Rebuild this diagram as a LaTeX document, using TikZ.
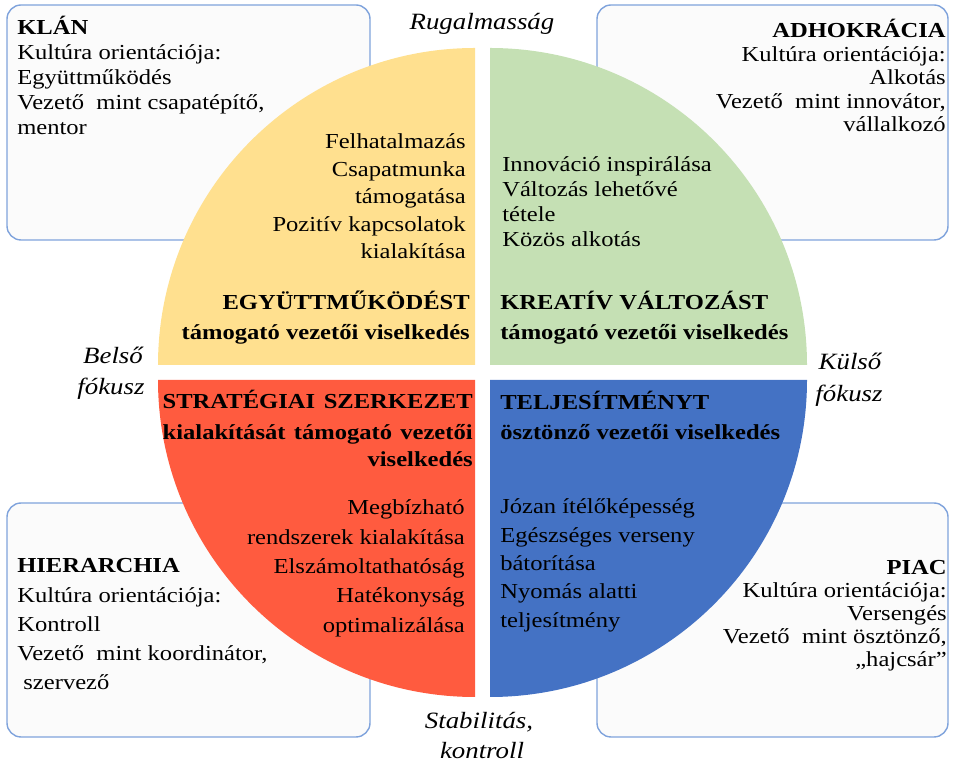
\documentclass[tikz,border=0pt]{standalone}
\usepackage{fontspec}
\setmainfont[FakeStretch=1.15]{Liberation Serif}

\definecolor{sarga}{HTML}{FFE08F}
\definecolor{zold}{HTML}{C5E0B4}
\definecolor{piros}{HTML}{FF5B3F}
\definecolor{kek}{HTML}{4472C4}
\definecolor{keret}{HTML}{7FA3DC}
\definecolor{hatter}{HTML}{FBFBFB}

\tikzset{
  doboz/.style={draw=keret, fill=hatter, line width=1pt, rounded corners=10pt},
  sor/.style={inner sep=0pt, font=\fontsize{15.2}{18}\selectfont},
  fej/.style={inner sep=0pt, font=\fontsize{15.2}{18}\selectfont\bfseries},
  tengely/.style={inner sep=0pt, font=\fontsize{16.6}{20}\selectfont\itshape, anchor=base},
}

\begin{document}
\begin{tikzpicture}[x=0.025cm, y=0.025cm]
  \useasboundingbox (0,0) rectangle (953,767);

  % kultura dobozok
  \draw[doboz] (7,527) rectangle (370,762);
  \draw[doboz] (597,527) rectangle (948,762);
  \draw[doboz] (7,30) rectangle (370,264);
  \draw[doboz] (597,30) rectangle (948,264);

  % negyedkorok
  \fill[sarga] (475,402) -- ++(0,317) arc (90:180:317) -- cycle;
  \fill[zold] (490,402) -- ++(317,0) arc (0:90:317) -- cycle;
  \fill[piros] (475,387) -- ++(-317,0) arc (180:270:317) -- cycle;
  \fill[kek] (490,387) -- ++(0,-317) arc (270:360:317) -- cycle;

  % tengelyek
  \node[tengely] (rug) at (482,737) {Rugalmasság};
  \node[tengely] (belso1) at (113,403) {Belső};
  \node[tengely] (belso2) at (111,372) {fókusz};
  \node[tengely] (kulso1) at (850,397) {Külső};
  \node[tengely] (kulso2) at (849,365) {fókusz};
  \node[tengely] (stab1) at (479,38) {Stabilitás,};
  \node[tengely] (stab2) at (482,8) {kontroll};

  % KLAN
  \node[fej, anchor=base west] (klan) at (17,732) {KLÁN};
  \foreach \sz [count=\i from 0] in {{Kultúra orientációja:}, Együttműködés, {Vezető~~mint csapatépítő,}, mentor}
    \node[sor, anchor=base west] (klan-\i) at (17,707-25*\i) {\sz};

  % ADHOKRACIA
  \node[fej, anchor=base east] (adho) at (946,729) {ADHOKRÁCIA};
  \foreach \sz [count=\i from 0] in {{Kultúra orientációja:}, Alkotás, {Vezető~~mint innovátor,}, vállalkozó}
    \node[sor, anchor=base east] (adho-\i) at (946,705.5-23.5*\i) {\sz};

  % HIERARCHIA
  \node[fej, anchor=base west] (hier) at (17,194) {HIERARCHIA};
  \foreach \sz [count=\i from 0] in {{Kultúra orientációja:}, Kontroll, {Vezető~~mint koordinátor,}, {\ szervező}}
    \node[sor, anchor=base west] (hier-\i) at (17,164-29*\i) {\sz};

  % PIAC
  \node[fej, anchor=base east] (piac) at (947,192) {PIAC};
  \foreach \sz [count=\i from 0] in {{Kultúra orientációja:}, Versengés, {Vezető~~mint ösztönző,}, {„hajcsár”}}
    \node[sor, anchor=base east] (piac-\i) at (947,169-23*\i) {\sz};

  % sarga negyed
  \foreach \sz [count=\i from 0] in {Felhatalmazás, Csapatmunka, támogatása, {Pozitív kapcsolatok}, kialakítása}
    \node[sor, anchor=base east] (egy-\i) at (466,618-27.5*\i) {\sz};
  \node[fej, anchor=base east] (egyf1) at (470,457) {EGYÜTTMŰKÖDÉST};
  \node[fej, anchor=base east] (egyf2) at (470,427) {támogató vezetői viselkedés};

  % zold negyed
  \foreach \sz [count=\i from 0] in {{Innováció inspirálása}, {Változás lehetővé}, tétele, {Közös alkotás}}
    \node[sor, anchor=base west] (kre-\i) at (502,595-24.7*\i) {\sz};
  \node[fej, anchor=base west] (kref1) at (500,457) {KREATÍV VÁLTOZÁST};
  \node[fej, anchor=base west] (kref2) at (500,427) {támogató vezetői viselkedés};

  % piros negyed
  \node[fej, anchor=base east] (strf1) at (473,358) {\makebox[7.75cm][s]{STRATÉGIAI SZERKEZET}};
  \node[fej, anchor=base east] (strf2) at (473,327) {\makebox[7.75cm][s]{kialakítását támogató vezetői}};
  \node[fej, anchor=base east] (strf3) at (473,300) {viselkedés};
  \foreach \sz [count=\i from 0] in {Megbízható, {rendszerek kialakítása}, Elszámoltathatóság, Hatékonyság, optimalizálása}
    \node[sor, anchor=base east] (str-\i) at (465,252-29.3*\i) {\sz};

  % kek negyed
  \node[fej, anchor=base west] (telf1) at (500,357) {TELJESÍTMÉNYT};
  \node[fej, anchor=base west] (telf2) at (500,327) {ösztönző vezetői viselkedés};
  \foreach \sz [count=\i from 0] in {{Józan ítélőképesség}, {Egészséges verseny}, bátorítása, {Nyomás alatti}, teljesítmény}
    \node[sor, anchor=base west] (tel-\i) at (500,253-28.3*\i) {\sz};
\end{tikzpicture}
\end{document}
